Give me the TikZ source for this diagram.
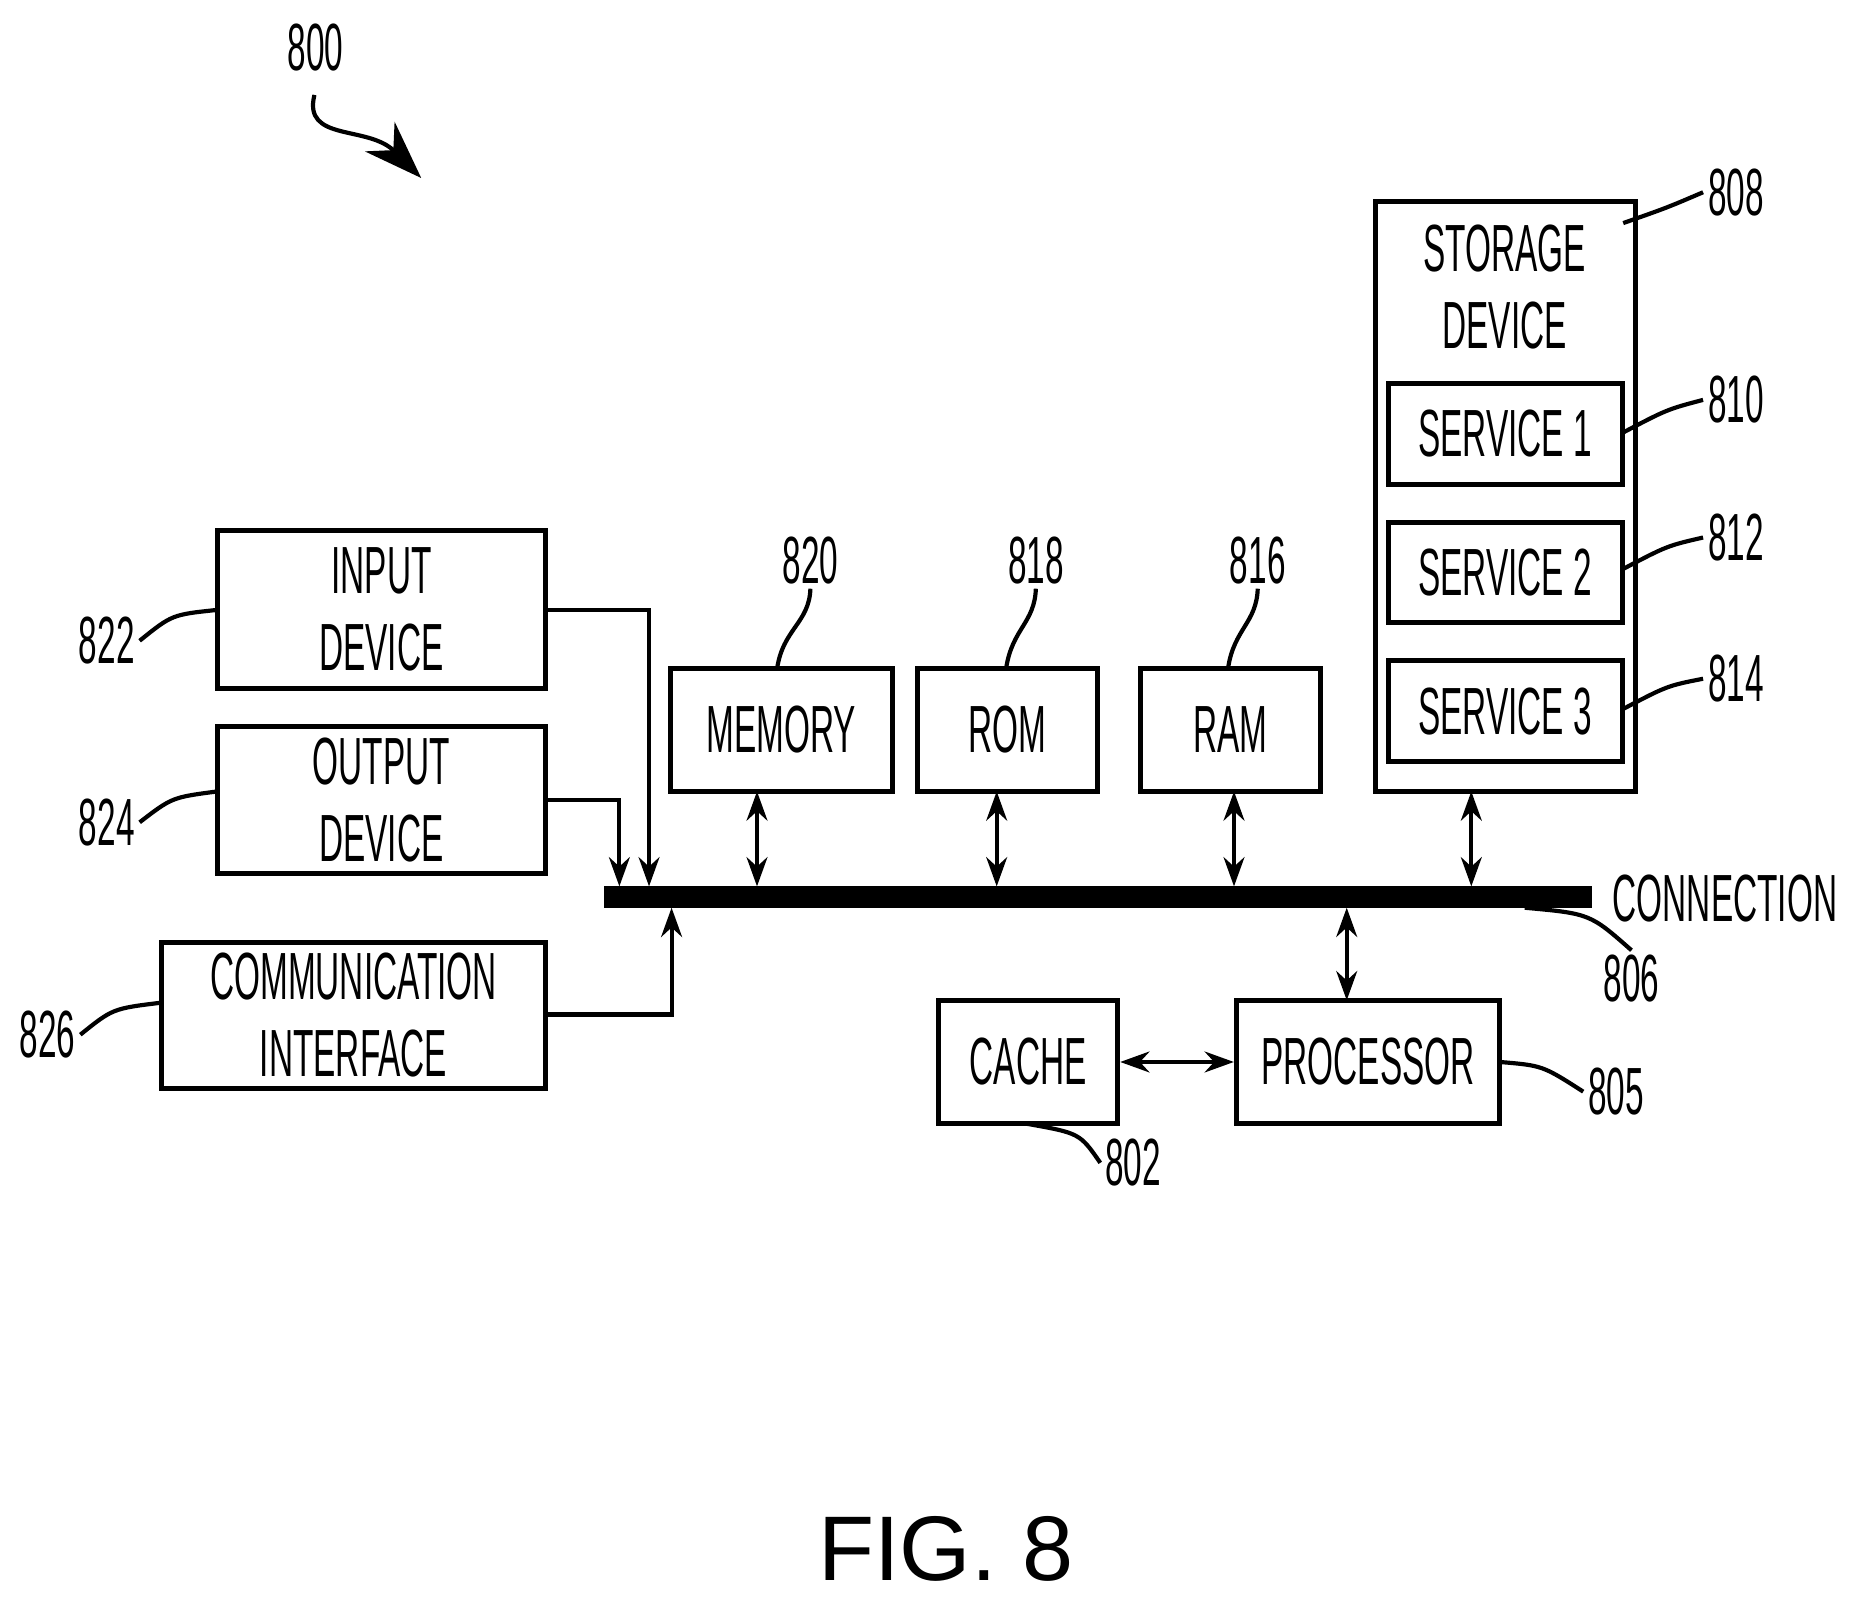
\documentclass[tikz,border=0pt]{standalone}
\usepackage{fontspec}
\setmainfont{Liberation Sans}[FakeStretch=0.5]
\newfontfamily\figfont{Liberation Sans}
\usetikzlibrary{arrows.meta}
\tikzset{%
  blk/.style     = {draw, line width=1.2pt, inner sep=0pt, align=center,%
                    font=\fontsize{16}{18.5}\selectfont},%
  lbl/.style     = {font=\fontsize{16}{18.5}\selectfont, inner sep=1pt},%
  lead/.style    = {line width=1pt},%
  link/.style    = {line width=1pt, -{Stealth[length=7pt,width=5pt]}},%
  dlink/.style   = {line width=1pt, {Stealth[length=7pt,width=5pt]}-{Stealth[length=7pt,width=5pt]}}%
}
\newcommand{\blkbox}[6]{% name, x1, y1, x2, y2, text
  \node[blk, minimum width={(#4-#2)*0.01cm}, minimum height={(#5-#3)*0.01cm}] (#1) at ({(#2+#4)/2},{(#3+#5)/2}) {#6};}
\begin{document}
\begin{tikzpicture}[x=0.01cm, y=-0.01cm]
  \useasboundingbox (0,0) rectangle (1560,1359);
  % -------------- blocks -----------------------------
  \blkbox{input}{183}{447}{460}{580}{INPUT\\DEVICE}
  \blkbox{output}{183}{612}{460}{736}{OUTPUT\\DEVICE}
  \blkbox{comm}{136}{794}{460}{917}{COMMUNICATION\\INTERFACE}
  \blkbox{mem}{565}{563}{752}{667}{MEMORY}
  \blkbox{rom}{773}{563}{925}{667}{ROM}
  \blkbox{ram}{961}{563}{1113}{667}{RAM}
  \blkbox{cache}{791}{843}{942}{947}{CACHE}
  \blkbox{proc}{1042}{843}{1264}{947}{PROCESSOR}
  \blkbox{stor}{1159}{170}{1378}{667}{}
  \node[lbl, align=center] (storT) at (1268,242) {STORAGE\\DEVICE};
  \blkbox{sa}{1170}{323}{1367}{408}{SERVICE 1}
  \blkbox{sb}{1170}{440}{1367}{525}{SERVICE 2}
  \blkbox{sc}{1170}{557}{1367}{642}{SERVICE 3}
  % -------------- bus -----------------------------
  \fill (509,747) rectangle (1342,765);
  \node[lbl, anchor=west] (conn) at (1355,757) {CONNECTION};
  % -------------- links -----------------------------
  \draw[link] (460,514) -| (547,747);
  \draw[link] (460,674) -| (522,747);
  \draw[link] (460,855) -| (566,765);
  \draw[dlink] (638,667) -- (638,747);
  \draw[dlink] (840,667) -- (840,747);
  \draw[dlink] (1040,667) -- (1040,747);
  \draw[dlink] (1240,667) -- (1240,747);
  \draw[dlink] (1135,765) -- (1135,843);
  \draw[dlink] (cache.east) -- (proc.west);
  % -------------- reference numerals -----------------------------
  \node[lbl] (n800) at (266,40) {800};
  \draw[line width=1pt, -{Stealth[length=14pt,width=10pt]}] (265,80) .. controls (255,120) and (310,105) .. (355,150);
  \node[lbl] (n808) at (1463,162) {808};
  \draw[lead] (1368,188) .. controls (1405,175) .. (n808.west);
  \node[lbl] (n810) at (1463,337) {810};
  \draw[lead] (1367,365) .. controls (1405,345) .. (n810.west);
  \node[lbl] (n812) at (1463,453) {812};
  \draw[lead] (1367,480) .. controls (1405,460) .. (n812.west);
  \node[lbl] (n814) at (1463,572) {814};
  \draw[lead] (1367,598) .. controls (1405,578) .. (n814.west);
  \node[lbl] (n820) at (683,472) {820};
  \draw[lead] (655,563) .. controls (660,530) and (682,525) .. (n820.south);
  \node[lbl] (n818) at (873,472) {818};
  \draw[lead] (848,563) .. controls (853,530) and (872,525) .. (n818.south);
  \node[lbl] (n816) at (1060,472) {816};
  \draw[lead] (1035,563) .. controls (1040,530) and (1059,525) .. (n816.south);
  \node[lbl] (n822) at (90,540) {822};
  \draw[lead] (n822.east) .. controls (145,518) .. (183,514);
  \node[lbl] (n824) at (90,693) {824};
  \draw[lead] (n824.east) .. controls (145,672) .. (183,667);
  \node[lbl] (n826) at (40,872) {826};
  \draw[lead] (n826.east) .. controls (95,850) .. (136,845);
  \node[lbl] (n806) at (1375,825) {806};
  \draw[lead] (1285,765) .. controls (1340,770) .. (n806.north);
  \node[lbl] (n805) at (1362,920) {805};
  \draw[lead] (1264,895) .. controls (1300,898) .. (n805.west);
  \node[lbl] (n802) at (955,980) {802};
  \draw[lead] (865,947) .. controls (910,955) .. (n802.west);
  % -------------- caption -----------------------------
  \node[font=\figfont\fontsize{22}{24}\selectfont] (fig) at (797,1305) {FIG. 8};
\end{tikzpicture}
\end{document}
